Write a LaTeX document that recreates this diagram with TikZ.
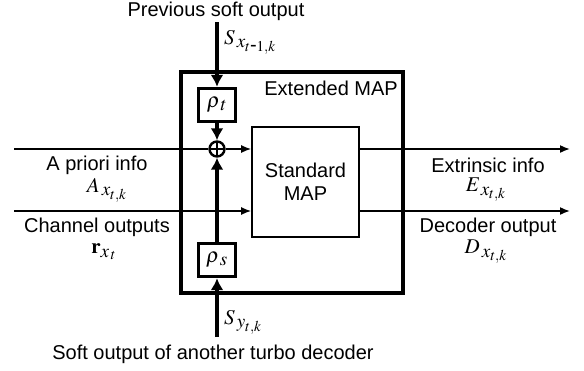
\documentclass[tikz,border=0pt]{standalone}
\usepackage{mathptmx}
\usepackage[no-math]{fontspec}
\setmainfont{Liberation Sans}
\usetikzlibrary{arrows.meta}
\DeclareMathSizes{20}{21}{19}{15}
\tikzset{
  thinarrow/.style={line width=1.6pt, -{Latex[length=10pt,width=8pt]}},
  thickarrow/.style={line width=3.4pt, -{Latex[length=12pt,width=13pt]}},
  rhobox/.style={draw, line width=3.4pt, minimum width=37pt, minimum height=33pt, inner sep=0pt},
  lbl/.style={inner sep=0pt}
}
\begin{document}
\begin{tikzpicture}[x=1pt, y=-1pt, font=\fontsize{20}{23}\selectfont]
\useasboundingbox (0,0) rectangle (584,370);
% extended MAP frame
\node[draw, line width=3.4pt, minimum width=222pt, minimum height=221pt, inner sep=0pt] (ext) at (292,182.5) {};
\node[lbl, anchor=east] (extlbl) at (398,88) {Extended MAP};
% standard MAP core
\node[draw, line width=1.6pt, minimum width=107pt, minimum height=110pt, align=center] (map) at (305.5,182) {Standard\\MAP};
% scaling boxes and adder
\node[rhobox] (rhot) at (217,105) {$\rho_{\,t}$};
\node[rhobox] (rhos) at (217,260) {$\rho_{\,s}$};
\node[draw, circle, line width=2.4pt, minimum size=15pt, inner sep=0pt,
  path picture={\draw[line width=2pt] (path picture bounding box.north) -- (path picture bounding box.south)
    (path picture bounding box.west) -- (path picture bounding box.east);}] (sum) at (217,149) {};
% free ends
\coordinate (top) at (217,22);
\coordinate (bot) at (217,337);
\coordinate (in1) at (14,149);
\coordinate (in2) at (14,211);
\coordinate (out1) at (570,149);
\coordinate (out2) at (570,211);
% soft inputs
\draw[thickarrow] (top) -- (rhot.north);
\draw[thickarrow] (bot) -- (rhos.south);
\draw[thickarrow] (rhot.south) -- (sum.north);
\draw[thickarrow] (rhos.north) -- (sum.south);
% a priori and channel inputs
\draw[line width=1.6pt] (in1) -- (sum.west);
\draw[thinarrow] (sum.east) -- (map.west |- sum.east);
\draw[thinarrow] (in2) -- (map.west |- in2);
% outputs
\draw[thinarrow] (map.east |- out1) -- (out1);
\draw[thinarrow] (map.east |- out2) -- (out2);
% labels
\node[lbl] (prev) at (216,11) {Previous soft output};
\node[lbl, anchor=west] (sx) at (224,42) {$S_{\,x_{t\mbox{-}1,k}}$};
\node[lbl] (apri) at (97,165) {A priori info};
\node[lbl] (ax) at (107,190) {$A_{\,x_{t,k}}$};
\node[lbl] (chan) at (97,227) {Channel outputs};
\node[lbl] (rx) at (104,252) {$\mathbf{r}_{x_{\,t}}$};
\node[lbl] (extr) at (488,165) {Extrinsic info};
\node[lbl] (ex) at (486,190) {$E_{\,x_{t,k}}$};
\node[lbl] (dec) at (488,227) {Decoder output};
\node[lbl] (dx) at (486,252) {$D_{\,x_{t,k}}$};
\node[lbl, anchor=west] (sy) at (224,322) {$S_{\,y_{t,k}}$};
\node[lbl] (other) at (213,354) {Soft output of another turbo decoder};
\end{tikzpicture}
\end{document}
